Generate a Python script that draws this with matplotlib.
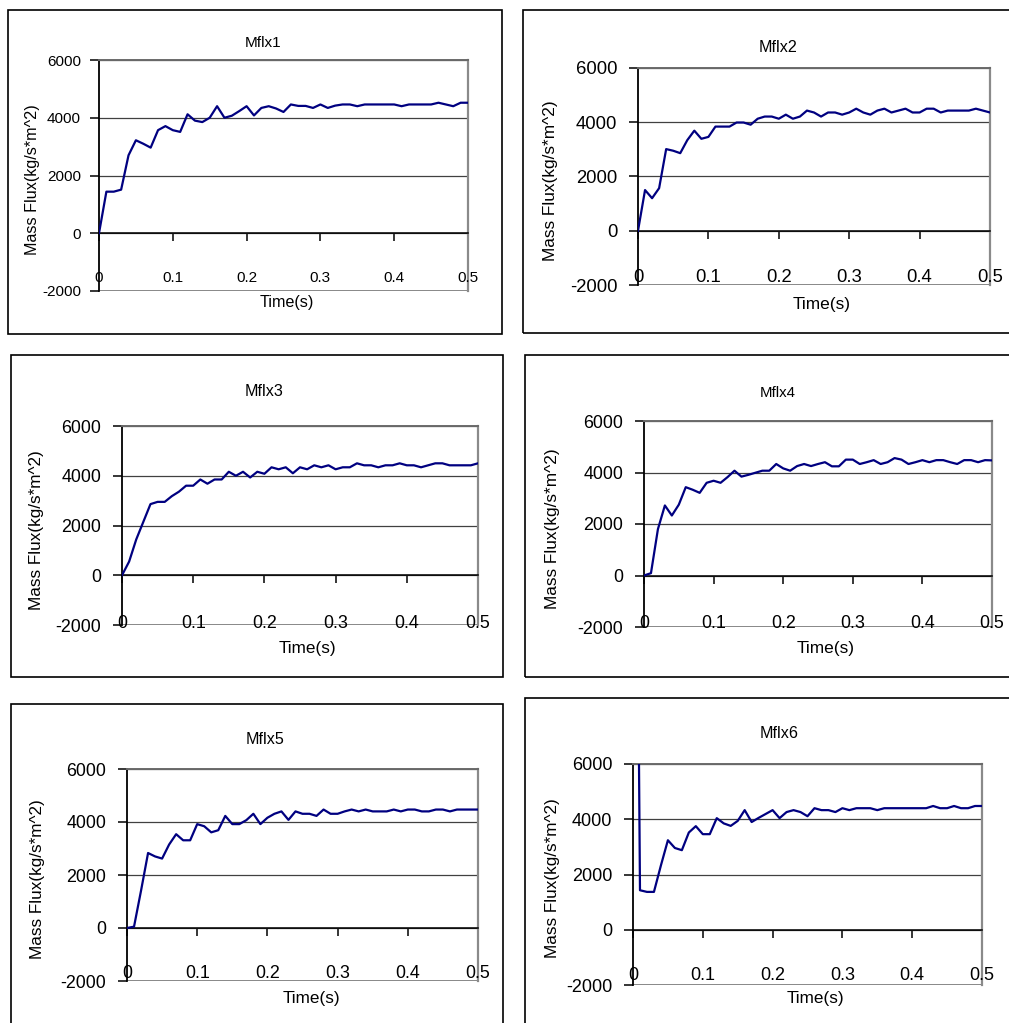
import matplotlib
matplotlib.use('Agg')
import matplotlib.pyplot as plt
import matplotlib.transforms as mtrans
from matplotlib.patches import Rectangle

plt.rcParams['font.family'] = ['Liberation Sans', 'DejaVu Sans']
plt.rcParams['axes.unicode_minus'] = False

W, H = 1009, 1023

time_s = [0.00, 0.01, 0.02, 0.03, 0.04, 0.05, 0.06, 0.07, 0.08, 0.09,
          0.10, 0.11, 0.12, 0.13, 0.14, 0.15, 0.16, 0.17, 0.18, 0.19,
          0.20, 0.21, 0.22, 0.23, 0.24, 0.25, 0.26, 0.27, 0.28, 0.29,
          0.30, 0.31, 0.32, 0.33, 0.34, 0.35, 0.36, 0.37, 0.38, 0.39,
          0.40, 0.41, 0.42, 0.43, 0.44, 0.45, 0.46, 0.47, 0.48, 0.49, 0.50]

mflx1 = [0, 1440, 1440, 1510, 2700, 3220, 3100, 2965, 3570, 3710, 3570,
         3510, 4120, 3900, 3850, 4000, 4400, 4000, 4070, 4230, 4400,
         4080, 4340, 4400, 4320, 4200, 4460, 4410, 4410, 4340, 4460,
         4340, 4420, 4460, 4460, 4400, 4460, 4460, 4460, 4460, 4460,
         4400, 4460, 4460, 4460, 4460, 4520, 4460, 4400, 4520, 4520]
mflx2 = [0, 1500, 1200, 1570, 3010, 2950, 2860, 3340, 3690, 3390, 3460,
         3840, 3840, 3840, 3990, 3990, 3910, 4130, 4210, 4210, 4130,
         4280, 4130, 4210, 4430, 4360, 4210, 4360, 4360, 4280, 4360,
         4500, 4360, 4280, 4430, 4500, 4360, 4430, 4500, 4360, 4360,
         4500, 4500, 4360, 4430, 4430, 4430, 4430, 4500, 4430, 4360]
mflx3 = [0, 550, 1440, 2150, 2860, 2950, 2950, 3180, 3360, 3600, 3600,
         3850, 3680, 3850, 3850, 4160, 4000, 4160, 3930, 4160, 4080,
         4340, 4260, 4340, 4100, 4340, 4260, 4420, 4340, 4420, 4260,
         4340, 4340, 4500, 4420, 4420, 4340, 4420, 4420, 4500, 4420,
         4420, 4340, 4420, 4500, 4500, 4420, 4420, 4420, 4420, 4500]
mflx4 = [0, 90, 1800, 2720, 2330, 2750, 3430, 3330, 3210, 3600, 3680,
         3600, 3820, 4070, 3840, 3910, 3990, 4070, 4070, 4330, 4160,
         4070, 4250, 4330, 4250, 4330, 4400, 4240, 4240, 4500, 4500,
         4330, 4400, 4480, 4330, 4400, 4560, 4500, 4330, 4400, 4480,
         4400, 4480, 4480, 4400, 4330, 4480, 4480, 4400, 4480, 4470]
mflx5 = [0, 50, 1410, 2830, 2700, 2620, 3150, 3540, 3310, 3310, 3920,
         3840, 3610, 3690, 4230, 3920, 3920, 4070, 4310, 3920, 4160,
         4310, 4400, 4080, 4400, 4310, 4310, 4230, 4470, 4310, 4310,
         4400, 4470, 4400, 4470, 4400, 4400, 4400, 4470, 4400, 4470,
         4470, 4400, 4400, 4470, 4470, 4400, 4470, 4470, 4470, 4470]
mflx6 = [34000, 1430, 1370, 1370, 2330, 3240, 2960, 2880, 3520, 3750, 3460,
         3460, 4040, 3850, 3760, 3940, 4330, 3900, 4050, 4190, 4330,
         4040, 4260, 4330, 4260, 4110, 4400, 4330, 4330, 4260, 4400,
         4330, 4400, 4400, 4400, 4330, 4400, 4400, 4400, 4400, 4400,
         4400, 4400, 4480, 4400, 4400, 4480, 4400, 4400, 4480, 4480]

titles = ['Mflx1', 'Mflx2', 'Mflx3', 'Mflx4', 'Mflx5', 'Mflx6']
series = [mflx1, mflx2, mflx3, mflx4, mflx5, mflx6]
y_ticks = [-2000, 0, 2000, 4000, 6000]
x_ticks = [0, 0.1, 0.2, 0.3, 0.4, 0.5]
x_tick_labels = ['0', '0.1', '0.2', '0.3', '0.4', '0.5']

# layout in pixels: frame box, plot area (x0, x1, ytop, ybot), text centres, font sizes
panels = [
    dict(box=(8, 10, 502, 334), area=(99, 468, 60, 291), title=(263, 43), ylab=(33, 180),
         xlab=(287, 303), xtick_y=278, fs_tick=11.0, fs_lab=11.6, fs_title=11.0, ypad=6.5),
    dict(box=(523, 10, 1020, 333), area=(638, 990, 68, 285), title=(778, 47), ylab=(550, 181),
         xlab=(822, 305), xtick_y=277, fs_tick=13.3, fs_lab=12.4, fs_title=11.6, ypad=8.5),
    dict(box=(11, 355, 503, 677), area=(122, 478, 426, 625), title=(264, 391), ylab=(37, 530),
         xlab=(307, 648), xtick_y=623, fs_tick=12.9, fs_lab=12.3, fs_title=11.6, ypad=8.5),
    dict(box=(525, 355, 1020, 677), area=(644, 992, 421, 627), title=(778, 393), ylab=(552, 529),
         xlab=(826, 648), xtick_y=624, fs_tick=12.9, fs_lab=12.4, fs_title=10.8, ypad=8.5),
    dict(box=(11, 704, 503, 1040), area=(127, 478, 769, 981), title=(265, 740), ylab=(38, 879),
         xlab=(311, 998), xtick_y=974, fs_tick=12.9, fs_lab=12.3, fs_title=11.6, ypad=8.5),
    dict(box=(525, 698, 1020, 1040), area=(633, 982, 764, 985), title=(779, 733), ylab=(552, 878),
         xlab=(815, 999), xtick_y=976, fs_tick=13.0, fs_lab=12.3, fs_title=11.6, ypad=8.5),
]


def fx(x):
    return x / W


def fy(y):
    return 1 - y / H


fig = plt.figure(figsize=(W / 100, H / 100), dpi=100)
fig.patch.set_facecolor('white')

for title, vals, p in zip(titles, series, panels):
    bx0, by0, bx1, by1 = p['box']
    fig.patches.append(Rectangle((fx(bx0), fy(by1)), fx(bx1 - bx0), (by1 - by0) / H,
                                 transform=fig.transFigure, fill=False,
                                 edgecolor='black', linewidth=1.2))

    x0, x1, yt, yb = p['area']
    ax = fig.add_axes([fx(x0), fy(yb), fx(x1 - x0), (yb - yt) / H])
    ax.set_xlim(0, 0.5)
    ax.set_ylim(-2000, 6000)
    ax.set_facecolor('none')

    ax.set_yticks(y_ticks)
    ax.set_xticks(x_ticks)
    ax.yaxis.grid(True, color='#404040', linewidth=0.9)
    ax.set_axisbelow(True)

    ax.plot(time_s, vals, color='#000080', linewidth=1.6, zorder=3)

    ax.spines['bottom'].set_position(('data', 0))
    ax.spines['bottom'].set_color('black')
    ax.spines['left'].set_color('black')
    ax.spines['left'].set_linewidth(1.3)
    ax.spines['bottom'].set_linewidth(1.1)
    ax.spines['top'].set_color('#6a6a6a')
    ax.spines['right'].set_color('#8a8a8a')
    ax.spines['top'].set_linewidth(1.4)
    ax.spines['right'].set_linewidth(1.6)
    ax.axhline(-2000, color='#808080', linewidth=2.0, zorder=2.5)

    ax.tick_params(axis='x', direction='out', length=5.8, width=1.1,
                   labelbottom=False)
    ax.tick_params(axis='y', direction='out', length=6.5, width=1.1,
                   pad=p['ypad'], labelsize=p['fs_tick'])

    trans = mtrans.blended_transform_factory(ax.transData, fig.transFigure)
    for xt, lab in zip(x_ticks, x_tick_labels):
        ax.text(xt, fy(p['xtick_y']), lab, transform=trans, ha='center', va='center',
                fontsize=p['fs_tick'], clip_on=False, zorder=4)

    fig.text(fx(p['title'][0]), fy(p['title'][1]), title, ha='center', va='center',
             fontsize=p['fs_title'])
    fig.text(fx(p['ylab'][0]), fy(p['ylab'][1]), 'Mass Flux(kg/s*m^2)', rotation=90,
             ha='center', va='center', fontsize=p['fs_lab'])
    fig.text(fx(p['xlab'][0]), fy(p['xlab'][1]), 'Time(s)', ha='center', va='center',
             fontsize=p['fs_lab'])

fig.savefig('out.png', dpi=100, facecolor='white')
